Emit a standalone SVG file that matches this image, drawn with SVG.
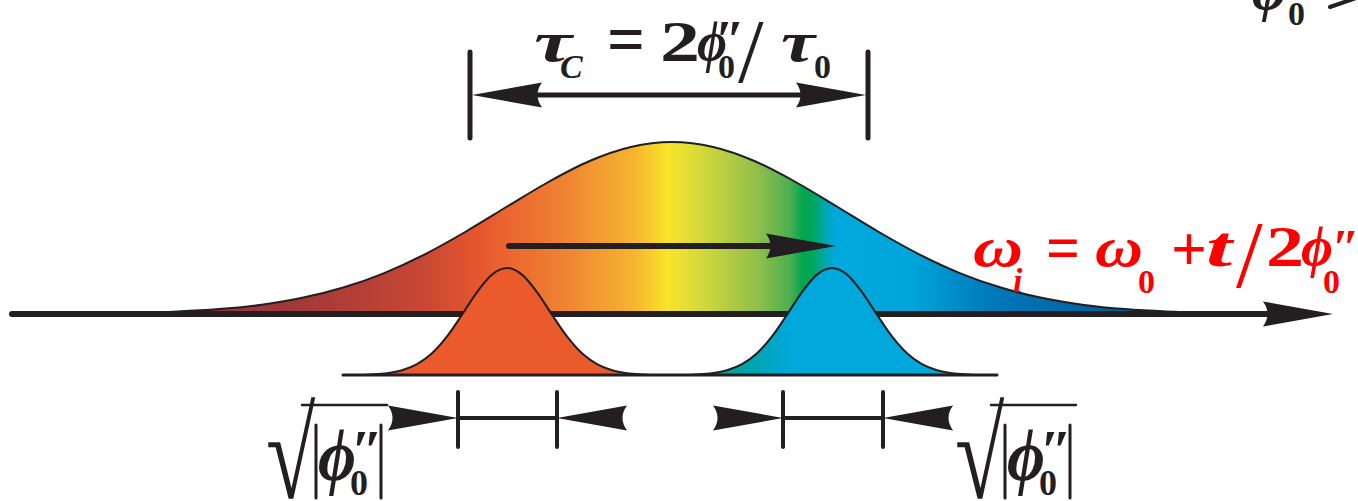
<svg xmlns="http://www.w3.org/2000/svg" width="1358" height="501" viewBox="0 0 1358 501">
<style>
.k{stroke:#231F20;stroke-linecap:round;fill:none}
.t{font-family:"Liberation Serif","Times New Roman","DejaVu Serif",serif;font-weight:bold;fill:#231F20}
.r{fill:#FF0000}
.i{font-style:italic}
.n{font-weight:normal}
.ah{fill:#231F20}
</style>
<defs>
<linearGradient id="gBig" gradientUnits="userSpaceOnUse" x1="120" y1="0" x2="1208" y2="0">
<stop offset="0" stop-color="#8A2C3C"/>
<stop offset="0.17" stop-color="#A3383A"/>
<stop offset="0.28" stop-color="#C64733"/>
<stop offset="0.335" stop-color="#E8582D"/>
<stop offset="0.41" stop-color="#F08434"/>
<stop offset="0.47" stop-color="#F6B52F"/>
<stop offset="0.5" stop-color="#F9E42A"/>
<stop offset="0.53" stop-color="#D4D93B"/>
<stop offset="0.582" stop-color="#8DBE4B"/>
<stop offset="0.609" stop-color="#4DAF4F"/>
<stop offset="0.6205" stop-color="#00A651"/>
<stop offset="0.629" stop-color="#00A65A"/>
<stop offset="0.642" stop-color="#00A6B8"/>
<stop offset="0.649" stop-color="#00A8DB"/>
<stop offset="0.716" stop-color="#00A6DB"/>
<stop offset="0.761" stop-color="#0089C6"/>
<stop offset="0.796" stop-color="#0076B8"/>
<stop offset="0.879" stop-color="#0063A3"/>
<stop offset="1" stop-color="#005A9A"/>
</linearGradient>
<linearGradient id="gSmall" gradientUnits="userSpaceOnUse" x1="-135" y1="0" x2="-40" y2="0">
<stop offset="0" stop-color="#2AA06C"/>
<stop offset="0.5" stop-color="#00A3A6"/>
<stop offset="1" stop-color="#00A8DB"/>
</linearGradient>
<path id="ah" class="ah" d="M0,0 L-70,-12.5 Q-61,0 -70,12.5 Z"/>
<path id="pulse" stroke="#231F20" stroke-width="2" d="M -150 375 C -145 375, -140 374.7, -135 374.4 C -130 374.1, -125 373.88, -120 373.2 C -115 372.52, -110 371.8, -105 370.3 C -100 368.8, -95 367.03, -90 364.2 C -85 361.37, -80 357.93, -75 353.3 C -70 348.67, -65 342.84, -60 336.4 C -55 329.96, -50 322.09, -45 314.7 C -40 307.31, -35 298.79, -30 292.1 C -25 285.41, -20 278.61, -15 274.6 C -10 270.59, -5 268, 0 268 C 5 268, 10 270.59, 15 274.6 C 20 278.61, 25 285.41, 30 292.1 C 35 298.79, 40 307.31, 45 314.7 C 50 322.09, 55 329.96, 60 336.4 C 65 342.84, 70 348.67, 75 353.3 C 80 357.93, 85 361.37, 90 364.2 C 95 367.03, 100 368.8, 105 370.3 C 110 371.8, 115 372.52, 120 373.2 C 125 373.88, 130 374.1, 135 374.4 C 140 374.7, 145 375, 150 375 Z"/>
</defs>

<g id="big-pulse">
<path fill="url(#gBig)" stroke="#231F20" stroke-width="2" transform="translate(672,0) scale(1.03,1) translate(-668,0)" d="M 108 314 L 108 313.5 C 121.3 313.3, 134.7 313.1, 148 312.8 C 161.3 312.5, 174.7 312.1, 188 311.5 C 201.3 310.9, 214.7 310.2, 228 309.1 C 241.3 308.0, 254.7 306.7, 268 304.9 C 281.3 303.1, 294.7 301.0, 308 298.1 C 321.3 295.3, 334.7 291.9, 348 287.8 C 361.3 283.7, 374.7 278.9, 388 273.3 C 401.3 267.7, 414.7 261.3, 428 254.3 C 441.3 247.3, 454.7 239.5, 468 231.5 C 481.3 223.5, 494.7 214.8, 508 206.5 C 521.3 198.3, 534.7 189.6, 548 182 C 561.3 174.4, 574.7 166.8, 588 161 C 601.3 155.2, 614.7 150.2, 628 147 C 641.3 143.8, 654.7 142, 668 142 C 681.3 142, 694.7 143.83, 708 147 C 721.3 150.17, 734.7 155.17, 748 161 C 761.3 166.83, 774.7 174.41, 788 182 C 801.3 189.59, 814.7 198.25, 828 206.5 C 841.3 214.75, 854.7 223.53, 868 231.5 C 881.3 239.47, 894.7 247.33, 908 254.3 C 921.3 261.27, 934.7 267.71, 948 273.3 C 961.3 278.89, 974.7 283.67, 988 287.8 C 1001.3 291.93, 1014.7 295.25, 1028 298.1 C 1041.3 300.95, 1054.7 303.07, 1068 304.9 C 1081.3 306.73, 1094.7 308.0, 1108 309.1 C 1121.3 310.2, 1134.7 310.89, 1148 311.5 C 1161.3 312.11, 1174.7 312.47, 1188 312.8 C 1201.3 313.13, 1214.7 313.3, 1228 313.5 L 1228 314 Z"/>
</g>

<g id="connectors">
<line class="k" x1="12" y1="314" x2="1290" y2="314" stroke-width="6"/>
<use href="#ah" transform="translate(1333,314)"/>
<line class="k" x1="509" y1="246" x2="800" y2="246" stroke-width="6"/>
<use href="#ah" transform="translate(836,246)"/>
<line class="k" x1="470" y1="52" x2="470" y2="138" stroke-width="5"/>
<line class="k" x1="868" y1="52" x2="868" y2="138" stroke-width="5"/>
<line class="k" x1="500" y1="95" x2="840" y2="95" stroke-width="5" stroke-linecap="butt"/>
<use href="#ah" transform="translate(472,95) rotate(180)"/>
<use href="#ah" transform="translate(866,95)"/>
<line class="k" x1="1330" y1="7" x2="1362" y2="-4" stroke-width="4"/>
</g>

<g id="small-pulses">
<use href="#pulse" fill="#EA5A2D" transform="translate(507,0)"/>
<use href="#pulse" fill="url(#gSmall)" transform="translate(832,0)"/>
<line class="k" x1="343" y1="375" x2="997" y2="375" stroke-width="3" stroke-linecap="butt"/>
</g>

<g id="width-left">
<line class="k" x1="458" y1="392" x2="458" y2="447" stroke-width="4"/>
<line class="k" x1="557" y1="392" x2="557" y2="447" stroke-width="4"/>
<line class="k" x1="458" y1="418" x2="557" y2="418" stroke-width="4"/>
<use href="#ah" transform="translate(458,418)"/>
<use href="#ah" transform="translate(557,418) rotate(180)"/>
</g>
<g id="width-right">
<line class="k" x1="783" y1="392" x2="783" y2="447" stroke-width="4"/>
<line class="k" x1="883" y1="392" x2="883" y2="447" stroke-width="4"/>
<line class="k" x1="783" y1="418" x2="883" y2="418" stroke-width="4"/>
<use href="#ah" transform="translate(783,418)"/>
<use href="#ah" transform="translate(883,418) rotate(180)"/>
</g>

<g id="label-tauC" class="t">
<text class="i" x="534" y="61" font-size="58" textLength="38" lengthAdjust="spacingAndGlyphs">τ</text>
<text class="i" x="560" y="78" font-size="34">C</text>
<text x="607" y="63" font-size="70" textLength="38" lengthAdjust="spacingAndGlyphs">=</text>
<text x="660" y="61" font-size="58" textLength="40" lengthAdjust="spacingAndGlyphs">2</text>
<text class="i" x="697" y="61" font-size="58" textLength="30" lengthAdjust="spacingAndGlyphs">ϕ</text>
<text class="i" x="715" y="58" font-size="54">″</text>
<text x="718" y="78" font-size="34">0</text>
<text class="n" x="738" y="82" font-size="92">/</text>
<text class="i" x="781" y="61" font-size="58" textLength="34" lengthAdjust="spacingAndGlyphs">τ</text>
<text x="814" y="78" font-size="34">0</text>
</g>

<g id="label-omega" class="t r">
<text class="i r" x="973" y="266" font-size="56" textLength="50" lengthAdjust="spacingAndGlyphs">ω</text>
<text class="i r" x="1013" y="292" font-size="34">i</text>
<text class="r" x="1046" y="270" font-size="66" textLength="34" lengthAdjust="spacingAndGlyphs">=</text>
<text class="i r" x="1095" y="266" font-size="56" textLength="48" lengthAdjust="spacingAndGlyphs">ω</text>
<text class="r" x="1138" y="293" font-size="34">0</text>
<text class="r" x="1171" y="270" font-size="64" textLength="36" lengthAdjust="spacingAndGlyphs">+</text>
<text class="i r" x="1206" y="266" font-size="56" textLength="26" lengthAdjust="spacingAndGlyphs">t</text>
<text class="r n" x="1236" y="287" font-size="96">/</text>
<text class="r" x="1266" y="266" font-size="56" textLength="38" lengthAdjust="spacingAndGlyphs">2</text>
<text class="i r" x="1301" y="266" font-size="56" textLength="32" lengthAdjust="spacingAndGlyphs">ϕ</text>
<text class="i r" x="1332" y="264" font-size="50">″</text>
<text class="r" x="1323" y="293" font-size="34">0</text>
</g>

<g id="label-phi-top" class="t">
<text class="i" x="1252" y="10" font-size="56" textLength="34" lengthAdjust="spacingAndGlyphs">ϕ</text>
<text x="1288" y="25" font-size="34">0</text>
</g>

<g id="label-sqrt-left" class="t">
<text transform="translate(266,498) scale(0.9,1.27)" x="0" y="0" font-size="100" font-weight="normal">√</text>
<line class="k" x1="302" y1="405" x2="387" y2="405" stroke-width="2.5" stroke-linecap="butt"/>
<line class="k" x1="316" y1="425" x2="316" y2="498" stroke-width="3" stroke-linecap="butt"/>
<line class="k" x1="381" y1="425" x2="381" y2="498" stroke-width="3" stroke-linecap="butt"/>
<text class="i" x="318" y="480" font-size="74" textLength="38" lengthAdjust="spacingAndGlyphs">ϕ</text>
<text class="i" x="351" y="470" font-size="58">″</text>
<text x="350" y="495" font-size="36">0</text>
</g>

<g id="label-sqrt-right" class="t" transform="translate(689,0)">
<text transform="translate(266,498) scale(0.9,1.27)" x="0" y="0" font-size="100" font-weight="normal">√</text>
<line class="k" x1="302" y1="405" x2="387" y2="405" stroke-width="2.5" stroke-linecap="butt"/>
<line class="k" x1="316" y1="425" x2="316" y2="498" stroke-width="3" stroke-linecap="butt"/>
<line class="k" x1="381" y1="425" x2="381" y2="498" stroke-width="3" stroke-linecap="butt"/>
<text class="i" x="318" y="480" font-size="74" textLength="38" lengthAdjust="spacingAndGlyphs">ϕ</text>
<text class="i" x="351" y="470" font-size="58">″</text>
<text x="350" y="495" font-size="36">0</text>
</g>
</svg>
